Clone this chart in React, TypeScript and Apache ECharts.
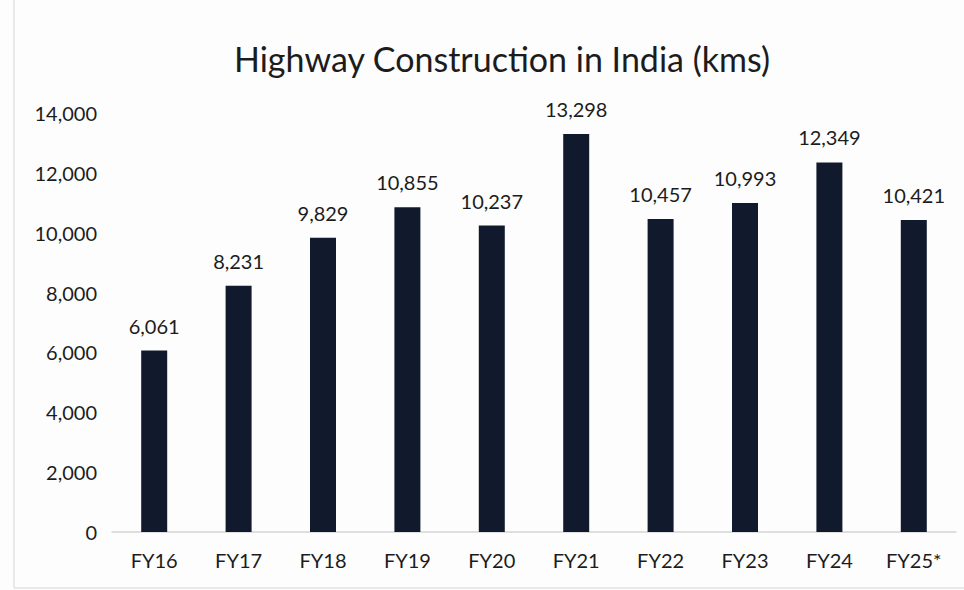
import React, { useEffect, useRef } from "react";
import * as echarts from "echarts";

const categories = ["FY16", "FY17", "FY18", "FY19", "FY20", "FY21", "FY22", "FY23", "FY24", "FY25*"];
const values = [6061, 8231, 9829, 10855, 10237, 13298, 10457, 10993, 12349, 10421];
const titleText = "Highway Construction in India (kms)";

const FONT = "Lato, 'Open Sans', sans-serif";

export default function App() {
  const ref = useRef<HTMLDivElement>(null);
  useEffect(() => {
    if (!ref.current) return;
    const chart = echarts.init(ref.current, null, { renderer: "svg" });
    chart.setOption({
      animation: false,
      backgroundColor: "#fdfdfd",
      title: {
        text: titleText,
        left: 497,
        textAlign: "center",
        top: 36,
        textStyle: { fontFamily: FONT, fontSize: 34, fontWeight: "normal", color: "#1c1c1c" },
      },
      grid: { left: 112, right: 8, top: 113, bottom: 58 },
      xAxis: {
        type: "category",
        data: categories,
        axisLine: { show: true, lineStyle: { color: "#d4d4d4", width: 1.5 } },
        axisTick: { show: false },
        axisLabel: { fontFamily: FONT, fontSize: 20, color: "#1c1c1c", margin: 18 },
      },
      yAxis: {
        type: "value",
        min: 0,
        max: 14000,
        interval: 2000,
        splitLine: { show: false },
        axisLine: { show: false },
        axisTick: { show: false },
        axisLabel: {
          fontFamily: FONT,
          fontSize: 20,
          color: "#1c1c1c",
          margin: 15,
          formatter: (v: number) => v.toLocaleString("en-US"),
        },
      },
      series: [
        {
          type: "bar",
          data: values,
          barWidth: 26,
          itemStyle: { color: "#111a2c" },
          label: {
            show: true,
            position: "top",
            distance: 15,
            fontFamily: FONT,
            fontSize: 20,
            color: "#1c1c1c",
            formatter: (p: any) => Number(p.value).toLocaleString("en-US"),
          },
        },
      ],
      graphic: [
        { type: "line", shape: { x1: 14, y1: 0, x2: 14, y2: 588 }, style: { stroke: "#e2e2e2", lineWidth: 1.5 } },
        { type: "line", shape: { x1: 14, y1: 588, x2: 964, y2: 588 }, style: { stroke: "#e2e2e2", lineWidth: 1.5 } },
      ],
    });
    return () => chart.dispose();
  }, []);
  return <div ref={ref} style={{ position: "fixed", left: 0, top: 0, width: 964, height: 590 }} />;
}
